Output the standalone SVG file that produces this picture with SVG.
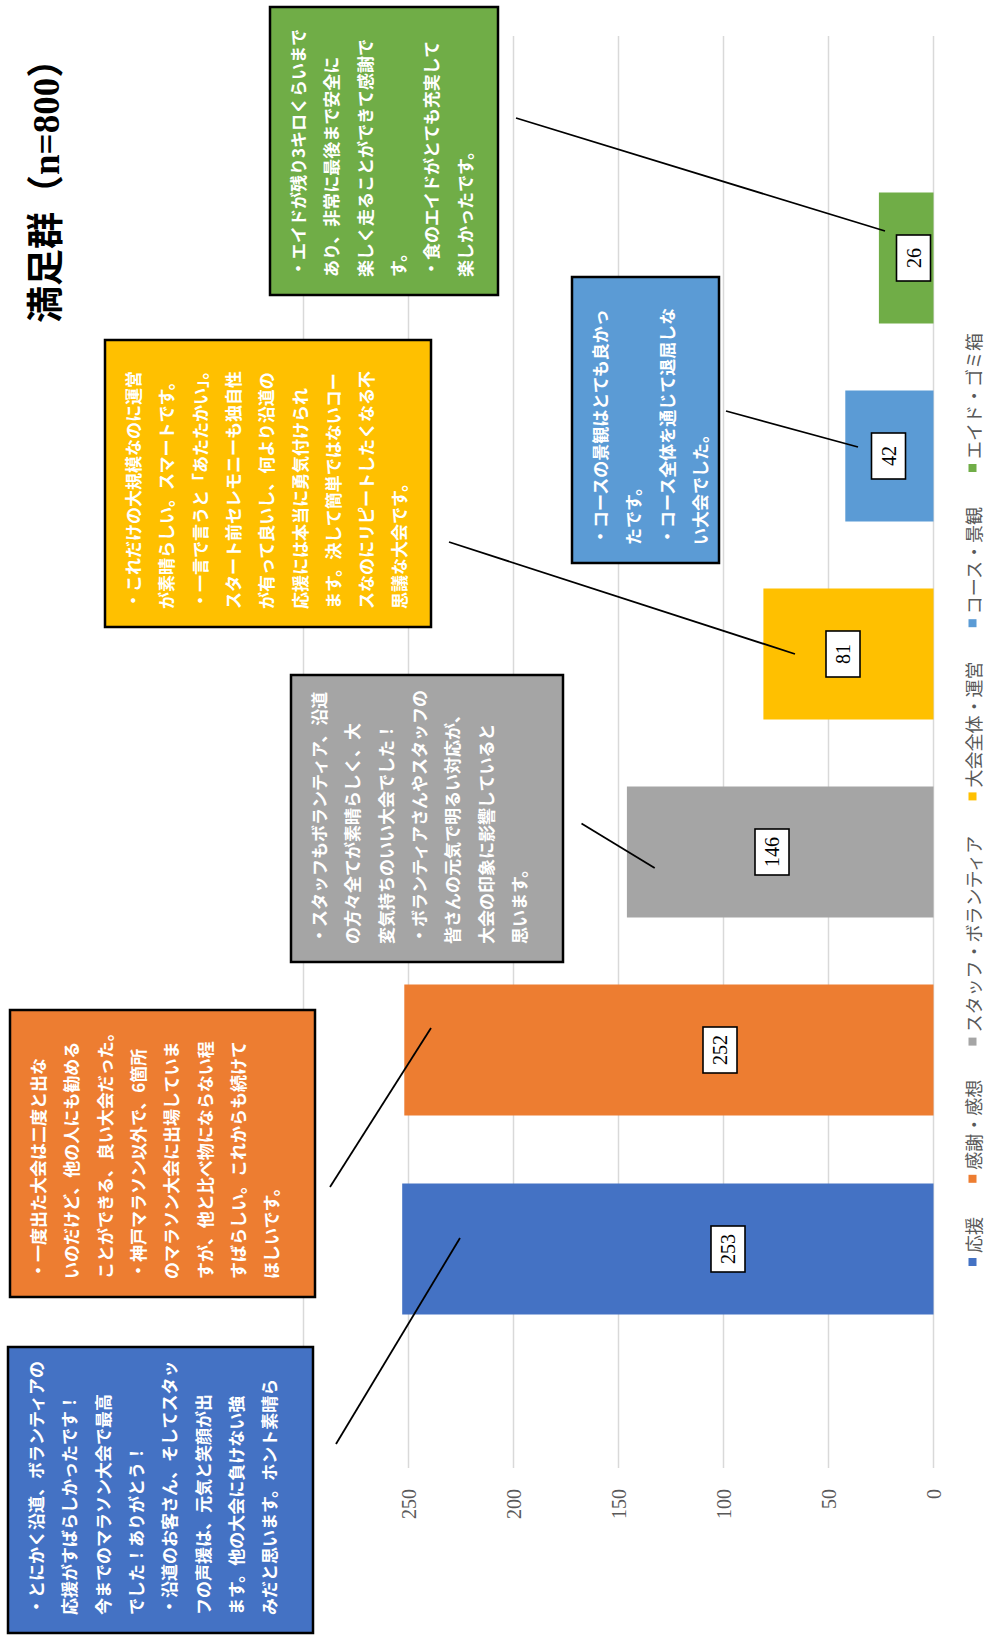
<svg xmlns="http://www.w3.org/2000/svg" width="985" height="1635" viewBox="0 0 985 1635">
<style>
.grid{stroke:#D9D9D9;stroke-width:1.5}
.ax{font-family:'Liberation Serif',serif;font-size:20px;fill:#595959}
.box{stroke:#000;stroke-width:2.5}
.ct{font-family:'Noto Sans CJK JP',sans-serif;font-weight:bold;font-size:17px;fill:#fff}
.lb rect{fill:#fff;stroke:#000;stroke-width:1.6}
.lb text{font-family:'Liberation Serif',serif;font-size:20px;fill:#000}
.conn line{stroke:#000;stroke-width:1.8}
.leg{font-family:'Noto Sans CJK JP',sans-serif;font-size:18px;fill:#595959}
.title{font-family:'Noto Sans CJK JP',sans-serif;font-weight:bold;font-size:37px;fill:#000}
</style>
<rect width="985" height="1635" fill="#fff"/>
<g transform="matrix(0 -1 1 0 0 1635)">
  <g id="gridlines">
    <line class="grid" x1="167" y1="933.5" x2="1599" y2="933.5"/>
    <line class="grid" x1="167" y1="828.5" x2="1599" y2="828.5"/>
    <line class="grid" x1="167" y1="723.5" x2="1599" y2="723.5"/>
    <line class="grid" x1="167" y1="618.5" x2="1599" y2="618.5"/>
    <line class="grid" x1="167" y1="513.5" x2="1599" y2="513.5"/>
    <line class="grid" x1="167" y1="408.5" x2="1599" y2="408.5"/>
    <line class="grid" x1="167" y1="303.5" x2="1599" y2="303.5"/>
  </g>
  <g id="axis-labels" class="ax" text-anchor="end" dominant-baseline="central">
    <text x="146" y="933.5">0</text>
    <text x="146" y="828.5">50</text>
    <text x="146" y="723.5">100</text>
    <text x="146" y="618.5">150</text>
    <text x="146" y="513.5">200</text>
    <text x="146" y="408.5">250</text>
  </g>
  <g id="bars">
    <rect id="bar-ouen" x="320.5" y="402.2" width="131" height="531.3" fill="#4472C4"/>
    <rect id="bar-kansha" x="519.5" y="404.3" width="131" height="529.2" fill="#ED7D31"/>
    <rect id="bar-staff" x="717.5" y="626.9" width="131" height="306.6" fill="#A5A5A5"/>
    <rect id="bar-taikai" x="915.5" y="763.4" width="131" height="170.1" fill="#FFC000"/>
    <rect id="bar-course" x="1113.5" y="845.3" width="131" height="88.2" fill="#5B9BD5"/>
    <rect id="bar-aid" x="1311.5" y="878.9" width="131" height="54.6" fill="#70AD47"/>
  </g>
  <g id="connectors" class="conn">
    <line x1="1517" y1="516" x2="1404" y2="885"/>
    <line x1="1224" y1="726" x2="1188" y2="858"/>
    <line x1="1093" y1="449" x2="981" y2="795"/>
    <line x1="811.5" y1="581.5" x2="767" y2="654.7"/>
    <line x1="607" y1="431" x2="448" y2="330"/>
    <line x1="397" y1="460" x2="191" y2="336"/>
  </g>
  <g id="label-253" class="lb"><rect x="363" y="711" width="46" height="34"/><text x="386" y="728" text-anchor="middle" dominant-baseline="central">253</text></g>
  <g id="label-252" class="lb"><rect x="562" y="703" width="46" height="34"/><text x="585" y="720" text-anchor="middle" dominant-baseline="central">252</text></g>
  <g id="label-146" class="lb"><rect x="760" y="755" width="46" height="34"/><text x="783" y="772" text-anchor="middle" dominant-baseline="central">146</text></g>
  <g id="label-81" class="lb"><rect x="958" y="826" width="46" height="34"/><text x="981" y="843" text-anchor="middle" dominant-baseline="central">81</text></g>
  <g id="label-42" class="lb"><rect x="1156" y="871.5" width="46" height="34"/><text x="1179" y="888.5" text-anchor="middle" dominant-baseline="central">42</text></g>
  <g id="label-26" class="lb"><rect x="1354" y="896.5" width="46" height="34"/><text x="1377" y="913.5" text-anchor="middle" dominant-baseline="central">26</text></g>

  <g id="note-aid">
    <rect class="box" x="1340" y="270" width="288" height="228" fill="#70AD47"/>
    <g class="ct" dominant-baseline="central">
      <text x="1358" y="297.5">・エイドが残り3キロくらいまで</text>
      <text x="1358" y="330.8">あり、非常に最後まで安全に</text>
      <text x="1358" y="364.1">楽しく走ることができて感謝で</text>
      <text x="1358" y="397.4">す。</text>
      <text x="1358" y="430.7">・食のエイドがとても充実して</text>
      <text x="1358" y="464">楽しかったです。</text>
    </g>
  </g>
  <g id="note-course">
    <rect class="box" x="1072" y="572" width="286" height="147" fill="#5B9BD5"/>
    <g class="ct" dominant-baseline="central">
      <text x="1090" y="599.5">・コースの景観はとても良かっ</text>
      <text x="1090" y="632.8">たです。</text>
      <text x="1090" y="666.1">・コース全体を通じて退屈しな</text>
      <text x="1090" y="699.4">い大会でした。</text>
    </g>
  </g>
  <g id="note-taikai">
    <rect class="box" x="1008" y="105" width="287" height="326" fill="#FFC000"/>
    <g class="ct" dominant-baseline="central">
      <text x="1026" y="132.5">・これだけの大規模なのに運営</text>
      <text x="1026" y="165.8">が素晴らしい。スマートです。</text>
      <text x="1026" y="199.1">・一言で言うと「あたたかい」。</text>
      <text x="1026" y="232.4">スタート前セレモニーも独自性</text>
      <text x="1026" y="265.7">が有って良いし、何より沿道の</text>
      <text x="1026" y="299">応援には本当に勇気付けられ</text>
      <text x="1026" y="332.3">ます。決して簡単ではないコー</text>
      <text x="1026" y="365.6">スなのにリピートしたくなる不</text>
      <text x="1026" y="398.9">思議な大会です。</text>
    </g>
  </g>
  <g id="note-staff">
    <rect class="box" x="673" y="291" width="287" height="272" fill="#A5A5A5"/>
    <g class="ct" dominant-baseline="central">
      <text x="691" y="318.5">・スタッフもボランティア、沿道</text>
      <text x="691" y="351.8">の方々全てが素晴らしく、大</text>
      <text x="691" y="385.1">変気持ちのいい大会でした！</text>
      <text x="691" y="418.4">・ボランティアさんやスタッフの</text>
      <text x="691" y="451.7">皆さんの元気で明るい対応が、</text>
      <text x="691" y="485">大会の印象に影響していると</text>
      <text x="691" y="518.3">思います。</text>
    </g>
  </g>
  <g id="note-kansha">
    <rect class="box" x="338" y="10" width="287" height="305" fill="#ED7D31"/>
    <g class="ct" dominant-baseline="central">
      <text x="356" y="37.5">・一度出た大会は二度と出な</text>
      <text x="356" y="70.8">いのだけど、他の人にも勧める</text>
      <text x="356" y="104.1">ことができる、良い大会だった。</text>
      <text x="356" y="137.4">・神戸マラソン以外で、6箇所</text>
      <text x="356" y="170.7">のマラソン大会に出場していま</text>
      <text x="356" y="204">すが、他と比べ物にならない程</text>
      <text x="356" y="237.3">すばらしい。これからも続けて</text>
      <text x="356" y="270.6">ほしいです。</text>
    </g>
  </g>
  <g id="note-ouen">
    <rect class="box" x="2" y="8" width="286" height="305" fill="#4472C4"/>
    <g class="ct" dominant-baseline="central">
      <text x="20" y="35.5">・とにかく沿道、ボランティアの</text>
      <text x="20" y="68.8">応援がすばらしかったです！</text>
      <text x="20" y="102.1">今までのマラソン大会で最高</text>
      <text x="20" y="135.4">でした！ありがとう！</text>
      <text x="20" y="168.7">・沿道のお客さん、そしてスタッ</text>
      <text x="20" y="202">フの声援は、元気と笑顔が出</text>
      <text x="20" y="235.3">ます。他の大会に負けない強</text>
      <text x="20" y="268.6">みだと思います。ホント素晴ら</text>
    </g>
  </g>

  <g id="legend">
    <rect x="369" y="968.5" width="8" height="8" fill="#4472C4"/>
    <text class="leg" x="382" y="972.5" dominant-baseline="central">応援</text>
    <rect x="452.2" y="968.5" width="8" height="8" fill="#ED7D31"/>
    <text class="leg" x="465.2" y="972.5" dominant-baseline="central">感謝・感想</text>
    <rect x="589.4" y="968.5" width="8" height="8" fill="#A5A5A5"/>
    <text class="leg" x="602.4" y="972.5" dominant-baseline="central">スタッフ・ボランティア</text>
    <rect x="834.6" y="968.5" width="8" height="8" fill="#FFC000"/>
    <text class="leg" x="847.6" y="972.5" dominant-baseline="central">大会全体・運営</text>
    <rect x="1007.8" y="968.5" width="8" height="8" fill="#5B9BD5"/>
    <text class="leg" x="1020.8" y="972.5" dominant-baseline="central">コース・景観</text>
    <rect x="1163" y="968.5" width="8" height="8" fill="#70AD47"/>
    <text class="leg" x="1176" y="972.5" dominant-baseline="central">エイド・ゴミ箱</text>
  </g>
  <g id="title">
    <text class="title" x="1312" y="59">満足群<tspan font-family="'Liberation Serif','Noto Sans CJK JP',serif">（n=800）</tspan></text>
  </g>
</g>
</svg>
